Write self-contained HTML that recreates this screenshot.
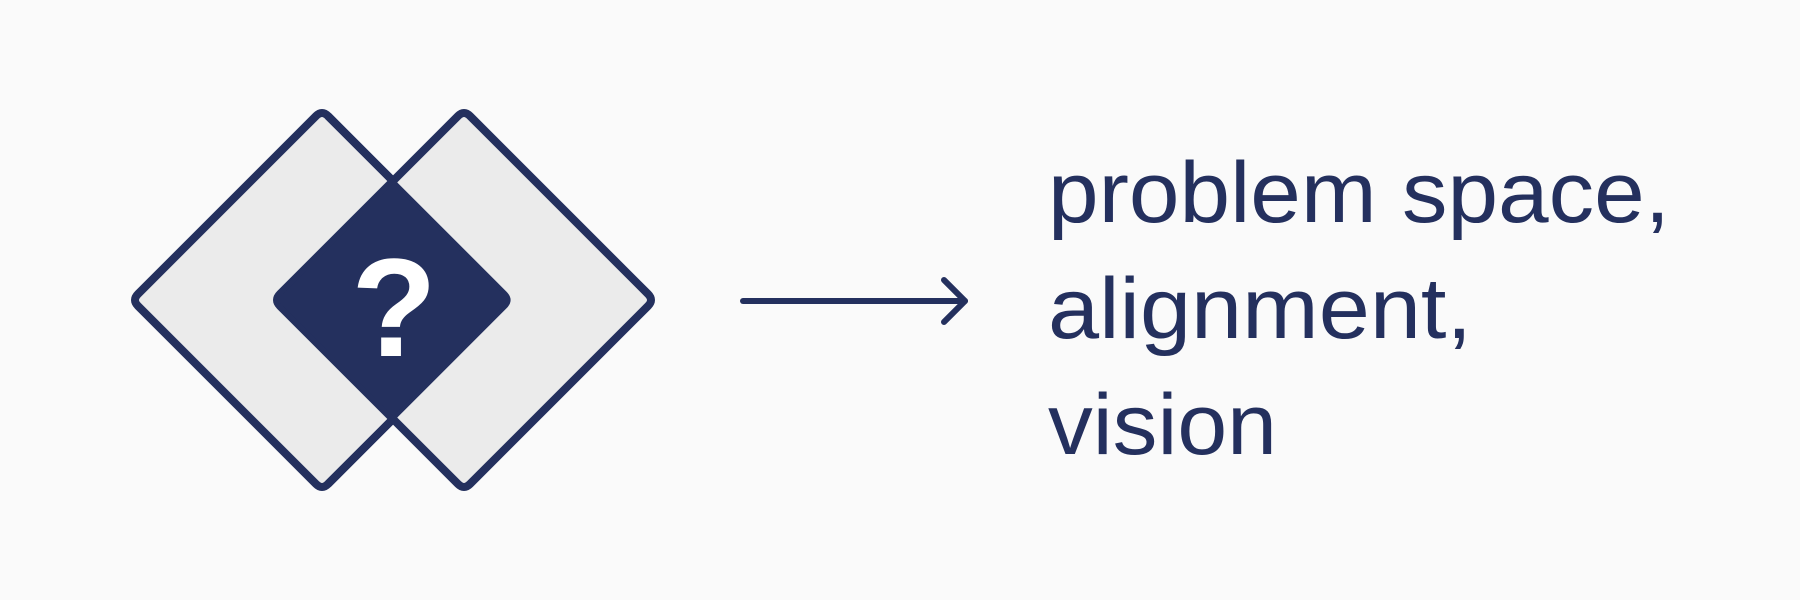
<!DOCTYPE html>
<html><head><meta charset="utf-8"><style>
html,body{margin:0;padding:0;background:#fafafa;}
svg{display:block;}
</style></head><body>
<svg width="1800" height="600" viewBox="0 0 1800 600" xmlns="http://www.w3.org/2000/svg">
<rect width="1800" height="600" fill="#fafafa"/>
<g stroke="#24305e" stroke-width="8" stroke-linejoin="round">
<path d="M316 116 Q322 110 328 116 L506 294 Q512 300 506 306 L328 484 Q322 490 316 484 L138 306 Q132 300 138 294 Z" fill="#ebebeb"/>
<path d="M458 116 Q464 110 470 116 L648 294 Q654 300 648 306 L470 484 Q464 490 458 484 L280 306 Q274 300 280 294 Z" fill="#ebebeb"/>
</g>
<path d="M393 181 L505 293 Q512 300 505 307 L393 419 L281 307 Q274 300 281 293 Z" fill="#24305e" stroke="#24305e" stroke-width="4" stroke-linejoin="round"/>
<path d="M328 116 L393 181 M393 419 L328 484" stroke="#24305e" stroke-width="8" fill="none"/>
<text x="394" y="356" text-anchor="middle" font-family="Liberation Sans, sans-serif" font-weight="bold" font-size="140" fill="#ffffff">?</text>
<g stroke="#24305e" stroke-width="6" stroke-linecap="round" stroke-linejoin="round" fill="none">
<line x1="743" y1="301" x2="965" y2="301"/>
<polyline points="944,280 965,301 944,322"/>
</g>
<g font-family="Liberation Sans, sans-serif" font-size="86" fill="#24305e">
<text x="1048" y="222" textLength="622" lengthAdjust="spacingAndGlyphs">problem space,</text>
<text x="1048" y="338" textLength="424" lengthAdjust="spacingAndGlyphs">alignment,</text>
<text x="1048" y="454" textLength="229" lengthAdjust="spacingAndGlyphs">vision</text>
</g>
</svg>
</body></html>
